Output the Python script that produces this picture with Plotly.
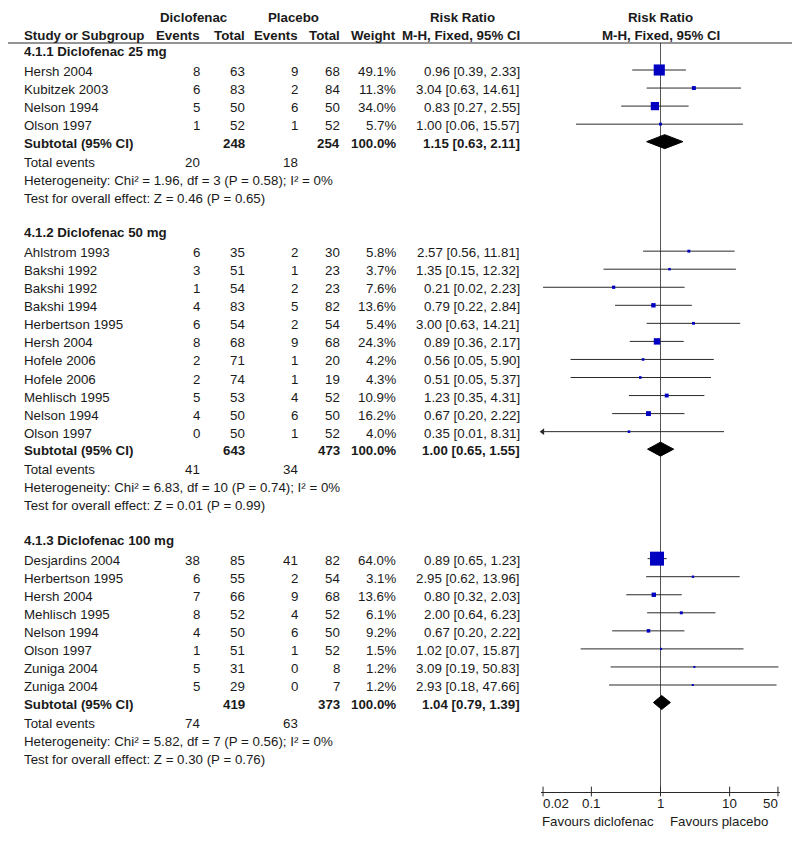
import numpy as np
import plotly.graph_objects as go

# ---------------- data ----------------
group_titles = ["4.1.1 Diclofenac 25 mg", "4.1.2 Diclofenac 50 mg", "4.1.3 Diclofenac 100 mg"]

g1_study = ["Hersh 2004", "Kubitzek 2003", "Nelson 1994", "Olson 1997"]
g1_d_events = [8, 6, 5, 1]
g1_d_total = [63, 83, 50, 52]
g1_p_events = [9, 2, 6, 1]
g1_p_total = [68, 84, 50, 52]
g1_weight = [49.1, 11.3, 34.0, 5.7]
g1_rr = [0.96, 3.04, 0.83, 1.00]
g1_lo = [0.39, 0.63, 0.27, 0.06]
g1_hi = [2.33, 14.61, 2.55, 15.57]

g2_study = ["Ahlstrom 1993", "Bakshi 1992", "Bakshi 1992", "Bakshi 1994", "Herbertson 1995",
            "Hersh 2004", "Hofele 2006", "Hofele 2006", "Mehlisch 1995", "Nelson 1994", "Olson 1997"]
g2_d_events = [6, 3, 1, 4, 6, 8, 2, 2, 5, 4, 0]
g2_d_total = [35, 51, 54, 83, 54, 68, 71, 74, 53, 50, 50]
g2_p_events = [2, 1, 2, 5, 2, 9, 1, 1, 4, 6, 1]
g2_p_total = [30, 23, 23, 82, 54, 68, 20, 19, 52, 50, 52]
g2_weight = [5.8, 3.7, 7.6, 13.6, 5.4, 24.3, 4.2, 4.3, 10.9, 16.2, 4.0]
g2_rr = [2.57, 1.35, 0.21, 0.79, 3.00, 0.89, 0.56, 0.51, 1.23, 0.67, 0.35]
g2_lo = [0.56, 0.15, 0.02, 0.22, 0.63, 0.36, 0.05, 0.05, 0.35, 0.20, 0.01]
g2_hi = [11.81, 12.32, 2.23, 2.84, 14.21, 2.17, 5.90, 5.37, 4.31, 2.22, 8.31]

g3_study = ["Desjardins 2004", "Herbertson 1995", "Hersh 2004", "Mehlisch 1995",
            "Nelson 1994", "Olson 1997", "Zuniga 2004", "Zuniga 2004"]
g3_d_events = [38, 6, 7, 8, 4, 1, 5, 5]
g3_d_total = [85, 55, 66, 52, 50, 51, 31, 29]
g3_p_events = [41, 2, 9, 4, 6, 1, 0, 0]
g3_p_total = [82, 54, 68, 52, 50, 52, 8, 7]
g3_weight = [64.0, 3.1, 13.6, 6.1, 9.2, 1.5, 1.2, 1.2]
g3_rr = [0.89, 2.95, 0.80, 2.00, 0.67, 1.02, 3.09, 2.93]
g3_lo = [0.65, 0.62, 0.32, 0.64, 0.20, 0.07, 0.19, 0.18]
g3_hi = [1.23, 13.96, 2.03, 6.23, 2.22, 15.87, 50.83, 47.66]

sub_d_total = [248, 643, 419]
sub_p_total = [254, 473, 373]
sub_weight = [100.0, 100.0, 100.0]
sub_rr = [1.15, 1.00, 1.04]
sub_lo = [0.63, 0.65, 0.79]
sub_hi = [2.11, 1.55, 1.39]
tot_d_events = [20, 41, 74]
tot_p_events = [18, 34, 63]
het_chi2 = ["1.96", "6.83", "5.82"]
het_df = [3, 10, 7]
het_p = ["0.58", "0.74", "0.56"]
het_i2 = [0, 0, 0]
z_val = ["0.46", "0.01", "0.30"]
z_p = ["0.65", "0.99", "0.76"]

tick_vals = [0.02, 0.1, 1, 10, 50]
tick_text = ["0.02", "0.1", "1", "10", "50"]
favours_left = "Favours diclofenac"
favours_right = "Favours placebo"

# ---------------- styling / layout constants ----------------
W_REF, H_REF = 800, 841
OFF = 8  # default page body margin; figure is shrunk so that it fits the window exactly
W, H = W_REF - OFF, H_REF - OFF
FONT = "Liberation Sans, Arial, sans-serif"
FS = 13.3
TXT = "#1a1a1a"
BLUE = "#0000C0"
LINE = "#2a2a2a"
VLINE = "#555555"

X_LOG_MIN, X_LOG_MAX = -1.73, 1.73
PLOT_LEFT, PLOT_RIGHT = 540.9, 780.1
AXIS_Y = 791.5
HEAD_LINE_Y = 43

NAME_X, D_EV_X, D_TOT_X, P_EV_X, P_TOT_X, W_X, RR_X = 22, 202, 247, 300, 342, 398, 522
TEXT_DY = 1.5

ROW = 18.05
HEAD_TO_FIRST = 20
LAST_TO_SUB = 17.5
SUB_TO_TE = 19
INFO_STEP = 18
TEST_TO_HEAD = 34.5
FIRST_HEAD_Y = 50


def px_x(p):
    return (p - OFF) / W


def px_y(p):
    return (H_REF - p) / H


groups = [
    dict(study=g1_study, de=g1_d_events, dt=g1_d_total, pe=g1_p_events, pt=g1_p_total,
         w=g1_weight, rr=g1_rr, lo=g1_lo, hi=g1_hi),
    dict(study=g2_study, de=g2_d_events, dt=g2_d_total, pe=g2_p_events, pt=g2_p_total,
         w=g2_weight, rr=g2_rr, lo=g2_lo, hi=g2_hi),
    dict(study=g3_study, de=g3_d_events, dt=g3_d_total, pe=g3_p_events, pt=g3_p_total,
         w=g3_weight, rr=g3_rr, lo=g3_lo, hi=g3_hi),
]

annotations = []


def txt(xpx, y, s, anchor="left", bold=False):
    annotations.append(dict(
        x=px_x(xpx), xref="paper", y=y + TEXT_DY, yref="y", text=f"<b>{s}</b>" if bold else s,
        showarrow=False, xanchor=anchor, yanchor="middle",
        font=dict(family=FONT, size=FS, color=TXT)))


# headers
txt(193.5, 17 - TEXT_DY, "Diclofenac", "center", True)
txt(293, 17 - TEXT_DY, "Placebo", "center", True)
txt(462, 17 - TEXT_DY, "Risk Ratio", "center", True)
txt(660.5, 17 - TEXT_DY, "Risk Ratio", "center", True)
txt(NAME_X, 35 - TEXT_DY, "Study or Subgroup", "left", True)
txt(D_EV_X, 35 - TEXT_DY, "Events", "right", True)
txt(D_TOT_X, 35 - TEXT_DY, "Total", "right", True)
txt(P_EV_X, 35 - TEXT_DY, "Events", "right", True)
txt(P_TOT_X, 35 - TEXT_DY, "Total", "right", True)
txt(W_X, 35 - TEXT_DY, "Weight", "right", True)
txt(RR_X, 35 - TEXT_DY, "M-H, Fixed, 95% CI", "right", True)
txt(660.5, 35 - TEXT_DY, "M-H, Fixed, 95% CI", "center", True)

ci_x, ci_y = [], []
sq_x, sq_y, sq_s = [], [], []
arrow_x, arrow_y = [], []
diamonds = []
x_min_val = 10 ** X_LOG_MIN

y = FIRST_HEAD_Y
for gi, g in enumerate(groups):
    txt(NAME_X, y, group_titles[gi], "left", True)
    y += HEAD_TO_FIRST
    for i in range(len(g["study"])):
        txt(NAME_X, y, g["study"][i])
        txt(D_EV_X, y, str(g["de"][i]), "right")
        txt(D_TOT_X, y, str(g["dt"][i]), "right")
        txt(P_EV_X, y, str(g["pe"][i]), "right")
        txt(P_TOT_X, y, str(g["pt"][i]), "right")
        txt(W_X, y, f"{g['w'][i]:.1f}%", "right")
        txt(RR_X, y, f"{g['rr'][i]:.2f} [{g['lo'][i]:.2f}, {g['hi'][i]:.2f}]", "right")
        ci_x += [g["lo"][i], g["hi"][i], None]
        ci_y += [y, y, None]
        sq_x.append(g["rr"][i])
        sq_y.append(y)
        sq_s.append(1.8 + 0.19 * g["w"][i])
        if g["lo"][i] < x_min_val:
            arrow_x.append(x_min_val * 1.06)
            arrow_y.append(y)
        if i < len(g["study"]) - 1:
            y += ROW
    y += LAST_TO_SUB
    txt(NAME_X, y, "Subtotal (95% CI)", "left", True)
    txt(D_TOT_X, y, str(sub_d_total[gi]), "right", True)
    txt(P_TOT_X, y, str(sub_p_total[gi]), "right", True)
    txt(W_X, y, f"{sub_weight[gi]:.1f}%", "right", True)
    txt(RR_X, y, f"{sub_rr[gi]:.2f} [{sub_lo[gi]:.2f}, {sub_hi[gi]:.2f}]", "right", True)
    diamonds.append((sub_lo[gi], sub_rr[gi], sub_hi[gi], y))
    y += SUB_TO_TE
    txt(NAME_X, y, "Total events")
    txt(D_EV_X, y, str(tot_d_events[gi]), "right")
    txt(P_EV_X, y, str(tot_p_events[gi]), "right")
    y += INFO_STEP
    txt(NAME_X, y, f"Heterogeneity: Chi² = {het_chi2[gi]}, df = {het_df[gi]} (P = {het_p[gi]}); I² = {het_i2[gi]}%")
    y += INFO_STEP
    txt(NAME_X, y, f"Test for overall effect: Z = {z_val[gi]} (P = {z_p[gi]})")
    y += TEST_TO_HEAD

fig = go.Figure()

# vertical line of no effect
fig.add_trace(go.Scatter(x=[1, 1], y=[HEAD_LINE_Y, AXIS_Y], mode="lines",
                         line=dict(color=VLINE, width=1), hoverinfo="skip"))
# CI lines
fig.add_trace(go.Scatter(x=ci_x, y=ci_y, mode="lines", line=dict(color=LINE, width=1),
                         hoverinfo="skip"))
# arrows for truncated CIs
fig.add_trace(go.Scatter(x=arrow_x, y=arrow_y, mode="markers", cliponaxis=False,
                         marker=dict(symbol="triangle-left", size=6, color=LINE), hoverinfo="skip"))
# squares
fig.add_trace(go.Scatter(x=sq_x, y=sq_y, mode="markers",
                         marker=dict(symbol="square", size=sq_s, color=BLUE, opacity=1,
                                     line=dict(width=0)),
                         hoverinfo="skip"))
# diamonds
for lo, est, hi, yc in diamonds:
    fig.add_trace(go.Scatter(x=[lo, est, hi, est, lo], y=[yc, yc - 7, yc, yc + 7, yc],
                             mode="lines", fill="toself", fillcolor="black",
                             line=dict(color="black", width=1), hoverinfo="skip"))
# axis ticks (crossing the axis line)
fig.add_trace(go.Scatter(x=tick_vals, y=[AXIS_Y] * len(tick_vals), mode="markers", cliponaxis=False,
                         marker=dict(symbol="line-ns", size=7, line=dict(width=1, color=LINE)),
                         hoverinfo="skip"))

# tick labels
for i, (v, t) in enumerate(zip(tick_vals, tick_text)):
    anc = "left" if i == 0 else ("right" if i == len(tick_vals) - 1 else "center")
    shift = -2 if i == 0 else (2 if i == len(tick_vals) - 1 else 0)
    annotations.append(dict(x=np.log10(v), xref="x", y=803, yref="y", text=t, showarrow=False,
                            xanchor=anc, yanchor="middle", xshift=shift,
                            font=dict(family=FONT, size=FS, color=TXT)))
annotations.append(dict(x=0, xref="x", y=821, yref="y", text=favours_left, showarrow=False,
                        xanchor="right", yanchor="middle", xshift=-5,
                        font=dict(family=FONT, size=FS, color=TXT)))
annotations.append(dict(x=0, xref="x", y=821, yref="y", text=favours_right, showarrow=False,
                        xanchor="left", yanchor="middle", xshift=7,
                        font=dict(family=FONT, size=FS, color=TXT)))

fig.update_layout(
    width=W, height=H, margin=dict(l=0, r=0, t=0, b=0),
    paper_bgcolor="white", plot_bgcolor="white", showlegend=False,
    annotations=annotations,
    shapes=[dict(type="line", xref="paper", x0=px_x(OFF), x1=px_x(793), yref="y",
                 y0=HEAD_LINE_Y, y1=HEAD_LINE_Y, line=dict(color=LINE, width=1))],
    xaxis=dict(type="log", range=[X_LOG_MIN, X_LOG_MAX], domain=[px_x(PLOT_LEFT), px_x(PLOT_RIGHT)],
               showline=True, linecolor=LINE, linewidth=1, anchor="free", position=px_y(AXIS_Y),
               ticks="", showticklabels=False, showgrid=False, zeroline=False, fixedrange=True),
    yaxis=dict(range=[H_REF, OFF], domain=[0, 1], visible=False, fixedrange=True),
)

fig.write_html("out.html")
